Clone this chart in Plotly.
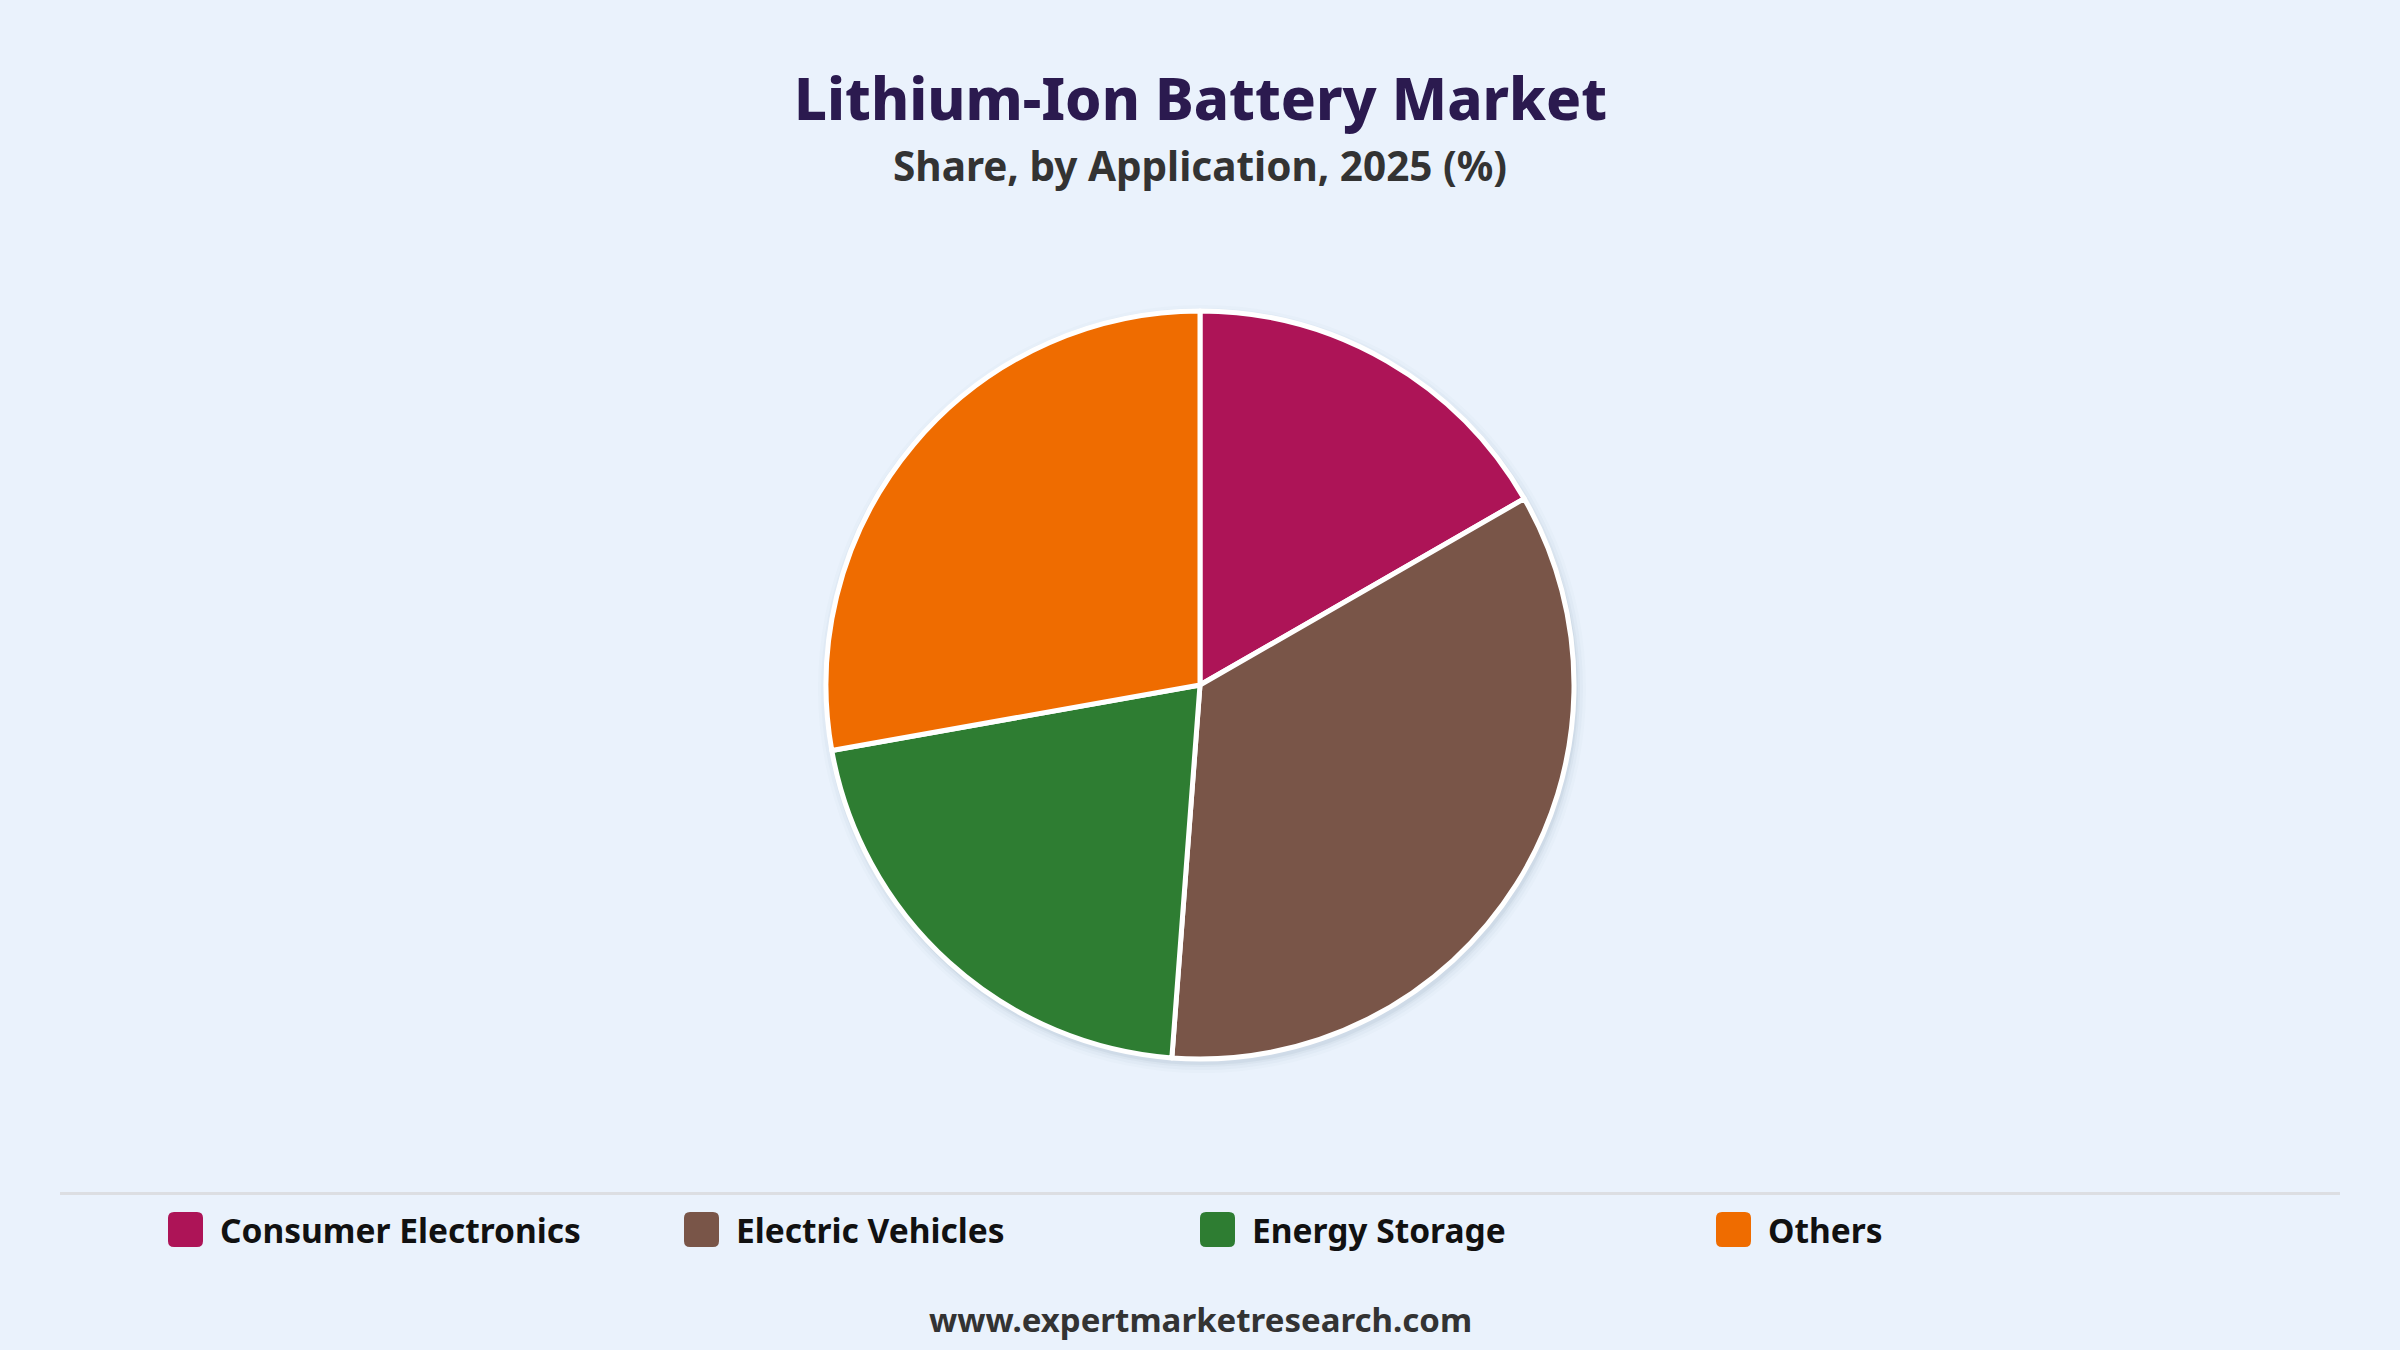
import plotly.graph_objects as go

# ---- data ----
categories = ["Consumer Electronics", "Electric Vehicles", "Energy Storage", "Others"]
shares = [16.7, 34.5, 21.0, 27.8]
colors = ["#AD1457", "#795548", "#2E7D32", "#EF6C00"]

title_text = "Lithium-Ion Battery Market"
subtitle_text = "Share, by Application, 2025 (%)"
footer_text = "www.expertmarketresearch.com"

# ---- layout constants (pixels) ----
W, H = 2400, 1350
BG = "#EAF2FC"
FONT = "Noto Sans"
CX, CY, R = 1200, 685, 374


def px(x):
    return x / W


def py(y):
    return 1 - y / H


fig = go.Figure()
fig.add_trace(go.Pie(
    labels=categories,
    values=shares,
    sort=False,
    direction="clockwise",
    rotation=0,
    marker=dict(colors=colors, line=dict(color="#FFFFFF", width=5)),
    textinfo="none",
    hoverinfo="label+percent",
    showlegend=False,
    domain=dict(x=[0, 1], y=[py(CY + R), py(CY - R)]),
))

shapes = []
# soft shadow behind the pie
for extra, alpha in [(10, 0.025), (7, 0.035), (4, 0.05), (2, 0.07)]:
    r = R + extra
    shapes.append(dict(
        type="circle", xref="paper", yref="paper", layer="below",
        x0=px(CX + 2 - r), x1=px(CX + 2 + r),
        y0=py(CY + 4 + r), y1=py(CY + 4 - r),
        fillcolor=f"rgba(90,110,140,{alpha})", line=dict(width=0),
    ))

# separator line
shapes.append(dict(
    type="line", xref="paper", yref="paper",
    x0=px(60), x1=px(2340), y0=py(1193.5), y1=py(1193.5),
    line=dict(color="#DCDEE2", width=3),
))

annotations = [
    dict(text=title_text, x=0.5, y=py(98), xref="paper", yref="paper",
         xanchor="center", yanchor="middle", showarrow=False,
         font=dict(family=FONT, size=58, color="#2B1A4F", weight=800)),
    dict(text=f"<b>{subtitle_text}</b>", x=0.5, y=py(165), xref="paper", yref="paper",
         xanchor="center", yanchor="middle", showarrow=False,
         font=dict(family=FONT, size=40.5, color="#333333")),
    dict(text=f"<b>{footer_text}</b>", x=0.5, y=py(1319), xref="paper", yref="paper",
         xanchor="center", yanchor="middle", showarrow=False,
         font=dict(family=FONT, size=33, color="#333333")),
]

# custom legend
leg_x0, leg_step, sw, leg_cy, rad = 168, 516, 35, 1229.5, 6
for i, (name, col) in enumerate(zip(categories, colors)):
    x0 = leg_x0 + i * leg_step
    x1 = x0 + sw
    y0 = leg_cy - sw / 2
    y1 = leg_cy + sw / 2
    path = (
        f"M {px(x0 + rad)} {py(y0)} L {px(x1 - rad)} {py(y0)} "
        f"Q {px(x1)} {py(y0)} {px(x1)} {py(y0 + rad)} "
        f"L {px(x1)} {py(y1 - rad)} Q {px(x1)} {py(y1)} {px(x1 - rad)} {py(y1)} "
        f"L {px(x0 + rad)} {py(y1)} Q {px(x0)} {py(y1)} {px(x0)} {py(y1 - rad)} "
        f"L {px(x0)} {py(y0 + rad)} Q {px(x0)} {py(y0)} {px(x0 + rad)} {py(y0)} Z"
    )
    shapes.append(dict(type="path", xref="paper", yref="paper", path=path,
                       fillcolor=col, line=dict(width=0)))
    annotations.append(dict(
        text=f"<b>{name}</b>", x=px(x1 + 15), y=py(leg_cy), xref="paper", yref="paper",
        xanchor="left", yanchor="middle", showarrow=False,
        font=dict(family=FONT, size=33.5, color="#111111"),
    ))

fig.update_layout(
    width=W, height=H,
    margin=dict(l=0, r=0, t=0, b=0),
    paper_bgcolor=BG, plot_bgcolor=BG,
    shapes=shapes, annotations=annotations,
    font=dict(family=FONT),
)

fig.write_html(
    "out.html",
    config={"displayModeBar": False},
    post_script="document.body.style.margin='0';document.body.style.overflow='hidden';",
)
